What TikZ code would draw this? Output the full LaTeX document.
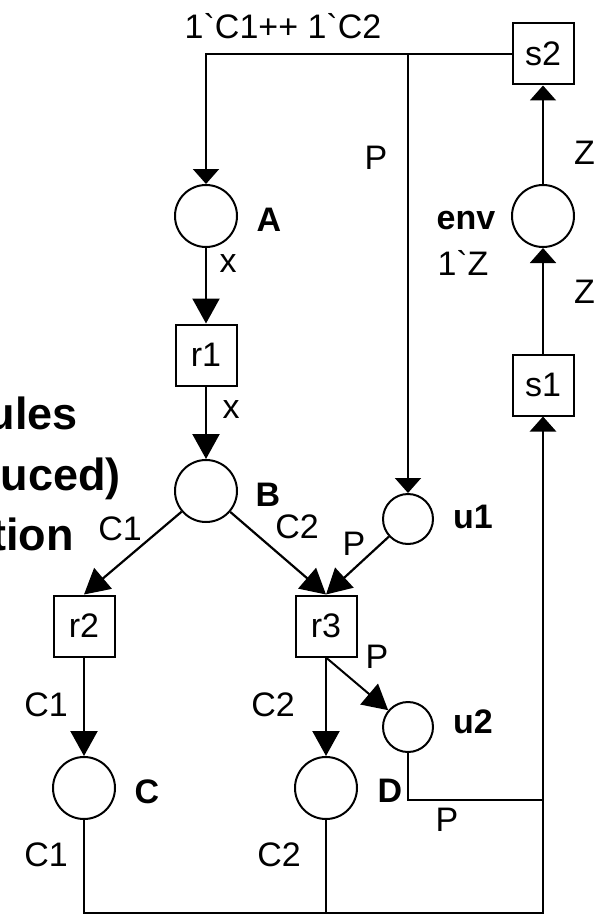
\documentclass[tikz,border=0pt]{standalone}
\usepackage{fontspec}
\setmainfont{Liberation Sans}[Ligatures=TeXOff]
\usetikzlibrary{arrows.meta}
\newcommand\labfont{\fontsize{34}{40}\selectfont}
\newcommand\blabfont{\bfseries\fontsize{34}{40}\selectfont}
\newcommand\titfont{\bfseries\fontsize{45}{54}\selectfont}
\tikzset{
  place/.style={circle, draw, line width=2pt, minimum size=62pt, inner sep=0pt},
  splace/.style={place, minimum size=50pt},
  trans/.style={rectangle, draw, line width=2pt, minimum width=61pt, minimum height=61pt, inner sep=0pt, font=\labfont},
  lab/.style={font=\labfont, inner sep=0pt},
  blab/.style={font=\blabfont, inner sep=0pt},
  tit/.style={font=\titfont, inner sep=0pt, anchor=base east},
  arc/.style={line width=2.2pt, -{Triangle[length=25pt,width=27pt]}},
  sarc/.style={line width=2pt, -{Triangle[length=15pt,width=26pt]}},
  plain/.style={line width=2pt},
  thick line/.style={line width=2.6pt}
}
\begin{document}
\begin{tikzpicture}[x=1pt,y=-1pt]
\useasboundingbox[fill=white] (0,0) rectangle (594,915);
\clip (0,0) rectangle (594,915);
% nodes
\node[trans] (s2) at (543,54) {s2};
\node[place] (A) at (206,216) {};
\node[place] (env) at (543,216) {};
\node[trans] (r1) at (206,355) {r1};
\node[trans] (s1) at (543,385) {s1};
\node[place] (B) at (206,491) {};
\node[splace] (u1) at (408,519) {};
\node[trans] (r2) at (84,626) {r2};
\node[trans] (r3) at (326,626) {r3};
\node[splace] (u2) at (408,727) {};
\node[place] (C) at (84,788) {};
\node[place] (D) at (326,788) {};
\coordinate (br) at (543,913);
\coordinate (jr) at (543,800);
% arcs
\draw[sarc] (s2) -| (A);
\draw[sarc] (s2) -| (u1);
\draw[sarc] (env) -- (s2);
\draw[sarc] (s1) -- (env);
\draw[arc] (A) -- (r1);
\draw[arc] (r1) -- (B);
\draw[arc] (B) -- (r2.north);
\draw[arc] (B) -- (r3.north);
\draw[arc] (u1) -- (r3.north);
\draw[arc] (r2) -- (C);
\draw[arc] (r3) -- (D);
\draw[arc, line width=2pt] (r3.south) -- (u2);
\draw[sarc, thick line] (C) |- (br) -- (s1);
\draw[thick line] (D) -- (D |- br);
\draw[plain] (u2) |- (jr);
% labels
\node[lab] (lInit) at (283,26) {1`C1++ 1`C2};
\node[lab] (lP1) at (376,158) {P};
\node[blab] (nA) at (269,220) {A};
\node[blab] (nenv) at (466,221) {env};
\node[lab] (lenv) at (463,263) {1`Z};
\node[lab, anchor=west] (lZ1) at (574,153) {Z};
\node[lab, anchor=west] (lZ2) at (574,292) {Z};
\node[lab] (lx1) at (228,264) {x};
\node[lab] (lx2) at (231,410) {x};
\node[blab] (nB) at (268,495) {B};
\node[lab] (lC1a) at (120,529) {C1};
\node[lab] (lC2a) at (297,527) {C2};
\node[blab] (nu1) at (473,517) {u1};
\node[lab] (lP2) at (354,544) {P};
\node[lab] (lP3) at (377,657) {P};
\node[lab] (lC1b) at (46,705) {C1};
\node[lab] (lC2b) at (273,705) {C2};
\node[blab] (nu2) at (473,722) {u2};
\node[blab] (nC) at (147,792) {C};
\node[blab] (nD) at (390,791) {D};
\node[lab] (lP4) at (447,820) {P};
\node[lab] (lC1c) at (46,855) {C1};
\node[lab] (lC2c) at (279,855) {C2};
% cut-off title
\node[tit] (t1) at (78,429) {ules};
\node[tit] (t2) at (121,490) {uced)};
\node[tit] (t3) at (74,550) {tion};
\end{tikzpicture}
\end{document}
